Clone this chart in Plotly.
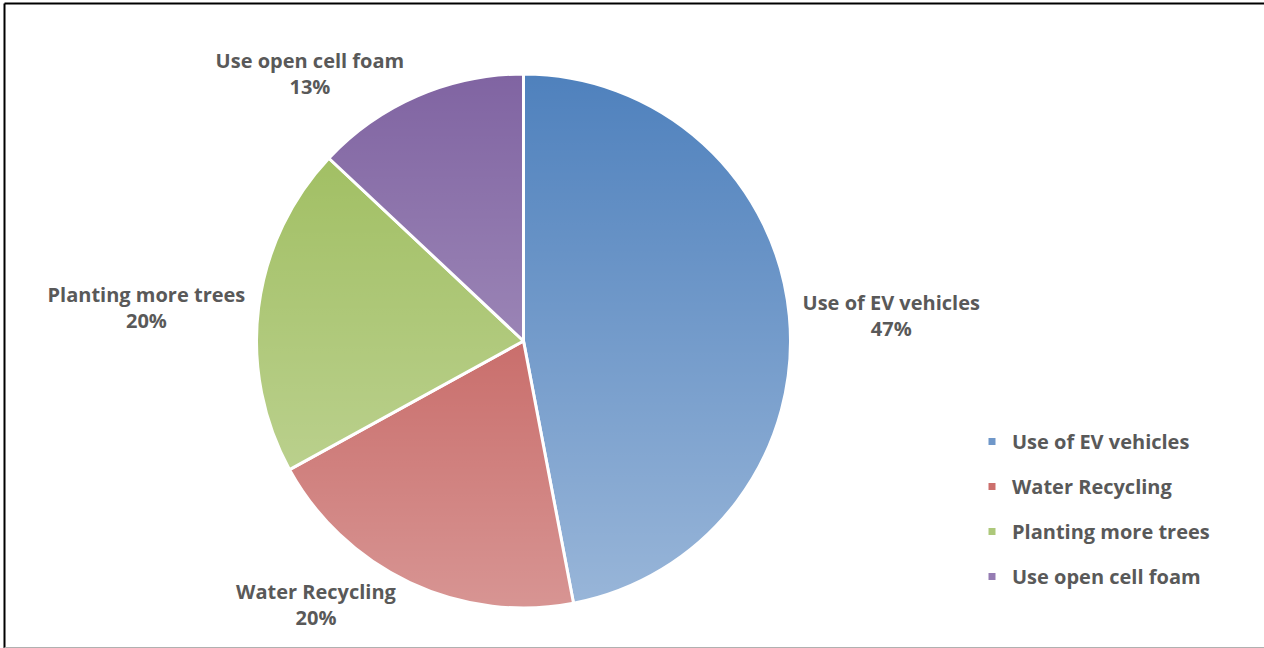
import base64
import plotly.graph_objects as go

# ---- data ----
categories = ["Use of EV vehicles", "Water Recycling", "Planting more trees", "Use open cell foam"]
values = [47, 20, 20, 13]
slice_colors = ["#4f81bd", "#bb4845", "#9bbb59", "#8064a2"]
legend_colors = ["#6f97c9", "#cc6f6c", "#adc87a", "#957cb3"]

# ---- layout geometry (pixels) ----
W, H = 1264, 648
cx, cy, R = 523.5, 341, 267
dom_x = [(cx - R) / W, (cx + R) / W]
dom_y = [(H - cy - R) / H, (H - cy + R) / H]

FONT = "Open Sans"

fig = go.Figure()
fig.add_trace(go.Pie(
    labels=categories, values=values, sort=False,
    direction="clockwise", rotation=0,
    marker=dict(colors=slice_colors, line=dict(color="white", width=3)),
    textinfo="label+percent", textposition="outside",
    outsidetextfont=dict(family=FONT, size=20, color="#595959", weight="bold"),
    showlegend=False, domain=dict(x=dom_x, y=dom_y),
))

for name, c in zip(categories, legend_colors):
    fig.add_trace(go.Scatter(
        x=[None], y=[None], mode="markers", name=name, legendgroup=name,
        marker=dict(symbol="square", size=7, color=c),
    ))

# vertical light gradient over the pie
svg = ('<svg xmlns="http://www.w3.org/2000/svg" width="400" height="400" viewBox="0 0 400 400">'
       '<defs><linearGradient id="g" x1="0" y1="0" x2="0" y2="1">'
       '<stop offset="0" stop-color="#ffffff" stop-opacity="0"/>'
       '<stop offset="1" stop-color="#ffffff" stop-opacity="0.42"/>'
       '</linearGradient></defs>'
       '<circle cx="200" cy="200" r="200" fill="url(#g)"/></svg>')
src = "data:image/svg+xml;base64," + base64.b64encode(svg.encode()).decode()

fig.update_layout(
    width=W, height=H,
    margin=dict(l=0, r=0, t=0, b=0),
    paper_bgcolor="white", plot_bgcolor="white",
    xaxis=dict(visible=False), yaxis=dict(visible=False),
    legend=dict(
        x=(1012 - 40) / W, xanchor="left",
        y=1 - 422 / H, yanchor="top",
        font=dict(family=FONT, size=20, color="#595959", weight="bold"),
        tracegroupgap=16, bgcolor="rgba(0,0,0,0)",
    ),
    images=[dict(
        source=src, xref="paper", yref="paper",
        x=dom_x[0], y=dom_y[1], sizex=dom_x[1] - dom_x[0], sizey=dom_y[1] - dom_y[0],
        xanchor="left", yanchor="top", sizing="stretch", layer="above",
    )],
    shapes=[
        dict(type="line", xref="paper", yref="paper", x0=4.5 / W, x1=1.01, y0=1 - 3.5 / H, y1=1 - 3.5 / H,
             line=dict(color="black", width=2)),
        dict(type="line", xref="paper", yref="paper", x0=4.5 / W, x1=4.5 / W, y0=0, y1=1 - 3.5 / H,
             line=dict(color="black", width=2)),
        dict(type="line", xref="paper", yref="paper", x0=4.5 / W, x1=1.01, y0=0.5 / H, y1=0.5 / H,
             line=dict(color="#b0b0b0", width=1)),
    ],
)

fig.write_html("out.html")
